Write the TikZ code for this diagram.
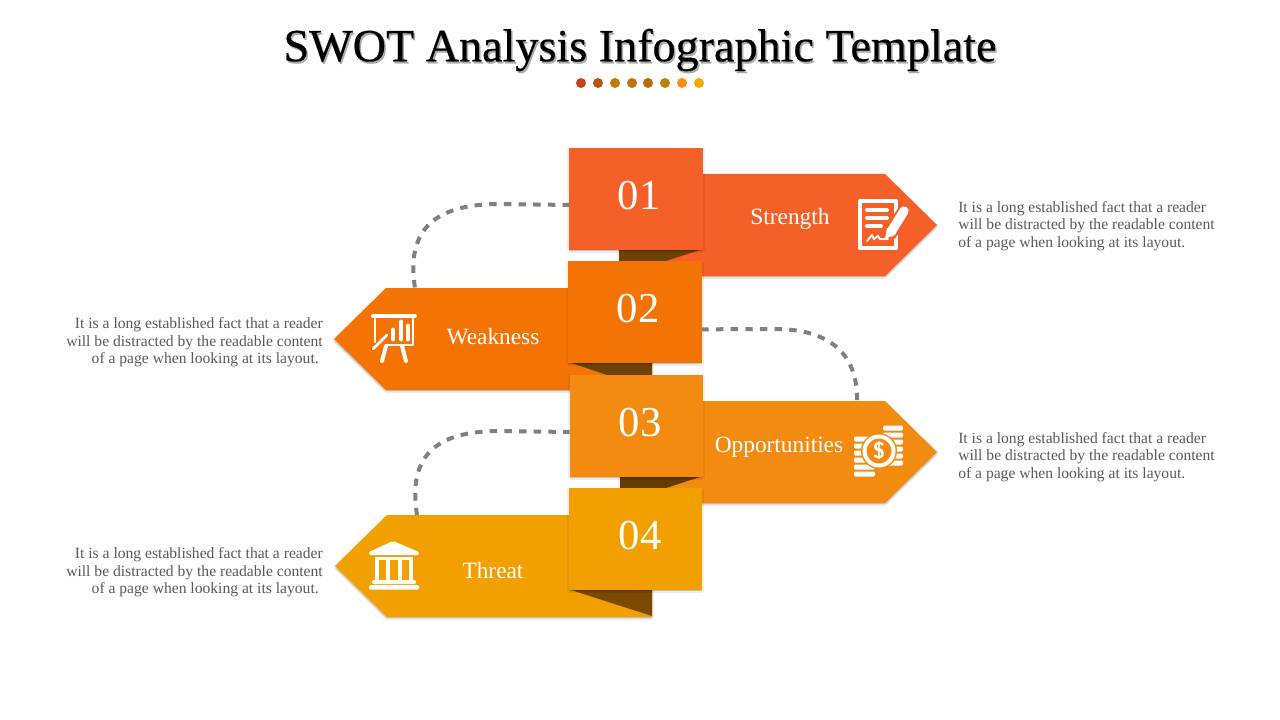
\documentclass[tikz,border=0pt]{standalone}
\usepackage{fontspec}
\setmainfont{Liberation Serif}
\newfontfamily\titlefont[FakeBold=0.5]{Liberation Serif}
\usetikzlibrary{shadows}
\definecolor{strengthcolor}{HTML}{F46027}
\definecolor{weaknesscolor}{HTML}{F37305}
\definecolor{opportcolor}{HTML}{F38B10}
\definecolor{threatcolor}{HTML}{F2A000}
\definecolor{foldcolor}{HTML}{6E4300}
\definecolor{dashcolor}{HTML}{808080}
\definecolor{bodycolor}{HTML}{595959}
\tikzset{
  softshadow/.style={
    general shadow={fill=black,fill opacity=.08,shadow xshift=0pt,shadow yshift=-1pt},
    general shadow={fill=black,fill opacity=.08,shadow xshift=0pt,shadow yshift=-2.4pt},
    general shadow={fill=black,fill opacity=.06,shadow xshift=1.4pt,shadow yshift=-.8pt},
    general shadow={fill=black,fill opacity=.06,shadow xshift=-1.4pt,shadow yshift=-.8pt}},
  numbox/.style={minimum width=100pt,minimum height=76.5pt,inner sep=0pt,softshadow},
  numtext/.style={text=white,font=\fontsize{32}{32}\selectfont},
  nametext/.style={text=white,font=\fontsize{17.5}{17.5}\selectfont},
  bodytext/.style={text=bodycolor,font=\fontsize{11.7}{13.1}\selectfont,inner sep=0pt},
  dashline/.style={dashcolor,line width=3pt,dash pattern=on 5.6pt off 5.4pt},
  iconline/.style={white,line width=3pt,line cap=round,line join=round},
}
\begin{document}
\begin{tikzpicture}[x=0.75pt,y=-0.75pt]
\useasboundingbox (0,0) rectangle (1280,720);
% title
\node[text=black!45,opacity=.7,font=\titlefont\fontsize{34.6}{34.6}\selectfont] (titleshadow) at (641.5,52) {SWOT Analysis Infographic Template};
\node[font=\titlefont\fontsize{34.6}{34.6}\selectfont] (title) at (640,50) {SWOT Analysis Infographic Template};
\foreach \x/\c in {581/C8431B,598/B8560F,615/C07A10,632/C07015,648/B86C10,665/BF7F10,682/F59010,699/F5A800} {
    \definecolor{dotcolor}{HTML}{\c}
    \fill[dotcolor] (\x,83) circle (5);
}
% connector ends on the arrows
\coordinate (weaknesstop) at (415,288);
\coordinate (opporttop) at (857,401);
\coordinate (threattop) at (417,515);
% 01
\fill[strengthcolor,softshadow] (619,276) -- (885,276) -- (937,225) -- (885,174) -- (619,174) -- cycle;
\fill[foldcolor] (619,250) -- (700,250) -- (619,276) -- cycle;
\node[numbox,fill=strengthcolor] (box1) at (636,199) {};
\node[numtext] (num1) at (639,196) {01};
\node[nametext] (strength) at (790,219) {Strength};
% 02
\fill[weaknesscolor,softshadow] (652,390) -- (386,390) -- (334,339) -- (386,288) -- (652,288) -- cycle;
\fill[foldcolor] (652,363) -- (571,363) -- (652,390) -- cycle;
\node[numbox,fill=weaknesscolor] (box2) at (635,312) {};
\node[numtext] (num2) at (638,309) {02};
\node[nametext] (weakness) at (493,337) {Weakness};
% 03
\fill[opportcolor,softshadow] (620,503) -- (885,503) -- (937,452) -- (885,401) -- (620,401) -- cycle;
\fill[foldcolor!90!black] (620,477) -- (700,477) -- (620,503) -- cycle;
\node[numbox,fill=opportcolor] (box3) at (636.5,426) {};
\node[numtext] (num3) at (640,423) {03};
\node[nametext] (opport) at (779,447) {Opportunities};
% 04
\fill[threatcolor,softshadow] (652,617) -- (387,617) -- (335,566) -- (387,515) -- (652,515) -- cycle;
\fill[foldcolor!90!orange] (652,590) -- (571,590) -- (652,616) -- cycle;
\node[numbox,fill=threatcolor] (box4) at (635.5,539) {};
\node[numtext] (num4) at (640,536) {04};
\node[nametext] (threat) at (493,571) {Threat};
% connectors
\draw[dashline,dash phase=.7pt] ([yshift=-4.5pt]box1.west) -- (500,204) .. controls (440,204) and (405,225) .. (weaknesstop);
\draw[dashline,dash phase=.5pt] ([yshift=-13pt]box2.east) -- (775,329) .. controls (825,329) and (858,350) .. (opporttop);
\draw[dashline,dash phase=.7pt] ([yshift=-4.5pt]box3.west) -- (500,431) .. controls (440,431) and (407,452) .. (threattop);
% texts
\node[bodytext,anchor=west,align=left] (strengthtext) at (958,226) {It is a long established fact that a reader\\will be distracted by the readable content\\of a page when looking at its layout.};
\node[bodytext,anchor=west,align=left] (opporttext) at (958,457) {It is a long established fact that a reader\\will be distracted by the readable content\\of a page when looking at its layout.};
\node[bodytext,anchor=east,align=right] (weaknesstext) at (323,342.5) {It is a long established fact that a reader\\will be distracted by the readable content\\of a page when looking at its layout.\hspace*{3pt}};
\node[bodytext,anchor=east,align=right] (threattext) at (323,572.5) {It is a long established fact that a reader\\will be distracted by the readable content\\of a page when looking at its layout.\hspace*{3pt}};
% icon 01
\draw[iconline] (860,201) rectangle (896,248);
\foreach \y/\w in {210/887,218/887,226/881}
    \draw[iconline] (867,\y) -- (\w,\y);
\draw[iconline,line width=1.4pt] (867,241) -- (872,235) -- (874,239) -- (878,236) -- (880,239) -- (888,239);
\draw[strengthcolor,line width=10.5pt] (904,212) -- (889,235);
\draw[white,line width=7pt,line cap=round] (904,211) -- (891,232);
\fill[white] (887,228) -- (896,234) -- (885,239) -- cycle;
% icon 02
\draw[iconline] (373,316) -- (415,316);
\draw[iconline,line width=1.8pt] (375,317) -- (375,342);
\draw[iconline,line width=1.8pt] (413,317) -- (413,345) -- (386,345);
\foreach \x/\y in {393/330,401/322,408/326}
    \draw[white,line width=3.6pt,line cap=round] (\x,\y) -- (\x,339);
\draw[iconline,line width=2pt] (373,349) -- (387,335);
\draw[iconline] (386,346) -- (382,361);
\draw[iconline] (402,346) -- (406,361);
% icon 03
\foreach \y in {428,435,442,449,456,463}
    \fill[white,rounded corners=1pt] (883,\y-2.5) rectangle (903,\y+2.5);
\foreach \y in {439,446,453,460,467,474}
    \fill[white,rounded corners=1pt] (854,\y-2.5) rectangle (875,\y+2.5);
\fill[opportcolor] (879,451) circle (18);
\draw[white,line width=3pt] (879,451) circle (14.5);
\node[text=white,font=\fontsize{17}{17}\sffamily\bfseries\selectfont,inner sep=0pt] (dollar) at (879,451) {\$};
% icon 04
\fill[white,rounded corners=1pt] (393,541) -- (419,552) -- (419,555) -- (369,555) -- (369,552) -- cycle;
\fill[white] (375,557) rectangle (413,560);
\foreach \x in {375,386,398,409}
    \fill[white] (\x,559) rectangle (\x+4,580);
\fill[white,rounded corners=1pt] (372,580) rectangle (416,584);
\fill[white,rounded corners=1pt] (369,585) rectangle (419,589.5);
\end{tikzpicture}
\end{document}
